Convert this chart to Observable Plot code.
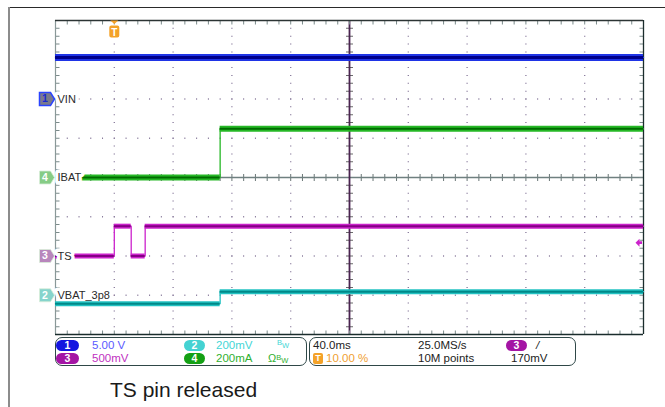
<!DOCTYPE html>
<html><head><meta charset="utf-8">
<script src="https://cdn.jsdelivr.net/npm/d3@7"></script>
<script src="https://cdn.jsdelivr.net/npm/@observablehq/plot@0.6"></script>
<style>
html,body{margin:0;padding:0;background:#fff;width:665px;height:407px;overflow:hidden;font-family:"Liberation Sans",Arial,sans-serif;}
#page{position:relative;width:665px;height:407px;}
#frameTop{position:absolute;left:9px;top:7px;width:656px;height:0;border-top:1px solid #2a2a2a;}
#frameLeft{position:absolute;left:8px;top:7px;width:0;height:400px;border-left:2px solid #8c8c8c;}
#chart{position:absolute;left:0;top:0;}
.box{position:absolute;top:337px;height:29px;border:1.3px solid #2f4848;border-radius:7px;box-sizing:border-box;}
.t{position:absolute;font-size:11.5px;line-height:12px;white-space:nowrap;color:#222;}
.pill{position:absolute;height:11px;border-radius:6px;color:#fff;font-size:10.5px;font-weight:bold;text-align:center;line-height:11px;}
.bw{position:absolute;font-size:7.5px;line-height:8px;white-space:nowrap;}
#caption{position:absolute;left:110px;top:379px;font-size:21px;line-height:21px;color:#1a1a1a;white-space:nowrap;}
</style></head><body>
<div id="page">
<div id="frameTop"></div><div id="frameLeft"></div>
<div id="chart"></div>
<div id="panel"></div>
<div id="caption"></div>
</div>
<script>
// ---- Channel setup ----
const channelNumbers = [1, 2, 3, 4];
const channelNames = ["VIN", "VBAT_3p8", "TS", "IBAT"];
const channelScaleLabels = ["5.00 V", "200mV", "500mV", "200mA"];
const channelPerDiv = [5, 0.2, 0.5, 0.2];      // V/div or A/div
const channelOffsetDiv = [2, -3, -2, 0];       // ground marker, divisions from centre
const channelBwLimited = [false, true, false, true];
const channelTermination = ["", "", "", "Ω"];

// ---- Waveforms: step edges (ms from trigger) and levels (V or A) ----
const vinTimes = [-40, 360];
const vinLevels = [5.3, 5.3];
const vbatTimes = [-40, 72, 360];
const vbatLevels = [-0.043, 0.018, 0.018];
const tsTimes = [-40, 0, 11.5, 21, 360];
const tsLevels = [0, 0.38, 0, 0.38, 0.38];
const ibatTimes = [-40, 72, 360];
const ibatLevels = [0, 0.248, 0.248];

// ---- Acquisition settings ----
const timePerDiv = 40;          // ms/div
const triggerPercent = 10;      // trigger position, % of record
const sampleRate = "25.0MS/s";
const recordLength = "10M points";
const triggerChannel = 3;
const triggerLevel = 0.17;      // V
const captionText = "TS pin released";

// ---- Styles ----
const traceColors = ["#1f34e6", "#22c2c2", "#cc22cc", "#26b826"];
const coreColors  = ["#00008a", "#008888", "#840084", "#006c00"];
const traceWidths = [7, 5, 5, 6];
const badgeFills  = ["#7a7a8c", "#86d4cc", "#b886bc", "#86cc86"];
const badgeText   = ["#1a2ad0", "#fff", "#fff", "#fff"];
const pillColors  = ["#1414e0", "#44d2d2", "#a414a4", "#14a014"];
const scaleColors = ["#5a5aff", "#44d6d6", "#c030c0", "#30b030"];

// ---- Derived ----
const nDivX = 10, nDivY = 8;
const tStart = -triggerPercent / 100 * nDivX * timePerDiv;
const tEnd = tStart + nDivX * timePerDiv;
const tCenter = (tStart + tEnd) / 2;
const toDiv = (ch, v) => channelOffsetDiv[ch] + v / channelPerDiv[ch];

const waves = [
  {ch: 0, times: vinTimes, levels: vinLevels},
  {ch: 1, times: vbatTimes, levels: vbatLevels},
  {ch: 2, times: tsTimes, levels: tsLevels},
  {ch: 3, times: ibatTimes, levels: ibatLevels}
];
const pointsOf = w => w.times.map((t, i) => ({t, y: toDiv(w.ch, w.levels[i])}));
const segsOf = w => w.times.slice(0, -1).map((t, i) => ({t1: t, t2: w.times[i + 1], y: toDiv(w.ch, w.levels[i])}));

const W = 665, H = 335, ML = 55, MR = 22, MT = 20, MB = 1;
const pxX = (W - ML - MR) / (nDivX * 5);   // minor tick spacing, px
const pxY = (H - MT - MB) / (nDivY * 5);
const dashX = `1 ${pxX - 1}`, dashY = `1 ${pxY - 1}`;

const xDivs = d3.range(0, nDivX + 1).map(i => tStart + i * timePerDiv);
const yDivs = d3.range(-nDivY / 2, nDivY / 2 + 1);
const gridX = xDivs.filter(t => t !== tStart && t !== tEnd && t !== tCenter);
const gridY = yDivs.filter(d => Math.abs(d) !== nDivY / 2 && d !== 0);

const gridColor = "#86789a";

function traceMarks(w) {
  const c = w.ch;
  return [
    Plot.line(pointsOf(w), {x: "t", y: "y", curve: "step-after", stroke: traceColors[c], strokeWidth: 1.3}),
    Plot.ruleY(segsOf(w), {x1: "t1", x2: "t2", y: "y", stroke: traceColors[c], strokeWidth: traceWidths[c]}),
    Plot.ruleY(segsOf(w), {x1: "t1", x2: "t2", y: "y", stroke: coreColors[c], strokeWidth: c === 0 ? 3 : 2})
  ];
}

const badgeSymbol = {draw(ctx) {
  ctx.moveTo(-16, -6.5); ctx.lineTo(-5, -6.5); ctx.lineTo(-1, 0); ctx.lineTo(-5, 6.5); ctx.lineTo(-16, 6.5); ctx.closePath();
}};
const trigSymbol = {draw(ctx) {
  ctx.moveTo(-4, -11); ctx.lineTo(4, -11); ctx.lineTo(0, -7.5); ctx.closePath();
  ctx.moveTo(-3, -6); ctx.lineTo(3, -6); ctx.quadraticCurveTo(5, -6, 5, -4); ctx.lineTo(5, 4);
  ctx.quadraticCurveTo(5, 6, 3, 6); ctx.lineTo(-3, 6); ctx.quadraticCurveTo(-5, 6, -5, 4);
  ctx.lineTo(-5, -4); ctx.quadraticCurveTo(-5, -6, -3, -6); ctx.closePath();
}};
const levelSymbol = {draw(ctx) {
  ctx.moveTo(-8, 0); ctx.lineTo(-4, -4); ctx.lineTo(-4, -1.3); ctx.lineTo(-1.5, -1.3);
  ctx.lineTo(-1.5, 1.3); ctx.lineTo(-4, 1.3); ctx.lineTo(-4, 4); ctx.closePath();
}};

const labelData = channelNames.map((name, i) => ({name, num: channelNumbers[i], ch: i, t: tStart, y: channelOffsetDiv[i]}));
const tickColor = "#7a8a8a";

const chart = Plot.plot({
  width: W, height: H,
  marginLeft: ML, marginRight: MR, marginTop: MT, marginBottom: MB,
  x: {domain: [tStart, tEnd], axis: null},
  y: {domain: [-nDivY / 2, nDivY / 2], axis: null},
  style: {fontFamily: "'Liberation Sans', Arial, sans-serif", background: "transparent", overflow: "visible"},
  marks: [
    // dotted graticule
    Plot.ruleX(gridX, {stroke: gridColor, strokeWidth: 1.3, strokeDasharray: dashY}),
    Plot.ruleY(gridY, {stroke: gridColor, strokeWidth: 1.3, strokeDasharray: dashX}),
    // centre axes with minor ticks
    Plot.ruleX([tCenter], {stroke: "#6a6a6a", strokeWidth: 7, strokeDasharray: dashY}),
    Plot.ruleY([0], {stroke: "#6a7676", strokeWidth: 7, strokeDasharray: dashX}),
    Plot.ruleY([0], {stroke: "#6f8080", strokeWidth: 1.3}),
    Plot.ruleX([tCenter], {stroke: "#4a2450", strokeWidth: 1.8}),
    // border ticks
    Plot.ruleY([nDivY / 2], {dy: 2, stroke: tickColor, strokeWidth: 4, strokeDasharray: dashX}),
    Plot.ruleY([-nDivY / 2], {dy: -2, stroke: tickColor, strokeWidth: 4, strokeDasharray: dashX}),
    Plot.ruleX([tStart], {dx: 2, stroke: tickColor, strokeWidth: 4, strokeDasharray: dashY}),
    Plot.ruleX([tEnd], {dx: -2, stroke: tickColor, strokeWidth: 4, strokeDasharray: dashY}),
    // frame
    Plot.ruleX([tStart], {stroke: "#8a9898", strokeWidth: 1.2}),
    Plot.ruleX([tEnd], {stroke: "#1a2c2c", strokeWidth: 1.3}),
    Plot.ruleY([nDivY / 2], {stroke: "#2c3434", strokeWidth: 1.3}),
    Plot.ruleY([-nDivY / 2], {stroke: "#1a2c2c", strokeWidth: 1.3}),
    // traces (VIN, IBAT, TS)
    ...traceMarks(waves[0]),
    ...traceMarks(waves[3]),
    ...traceMarks(waves[2]),
    // channel labels with white backing
    Plot.text(labelData, {x: "t", y: "y", text: "name", dx: 2, textAnchor: "start", fontSize: 11,
      fill: "#2a2a2a", stroke: "white", strokeWidth: 7}),
    // VBAT trace sits under its label
    ...traceMarks(waves[1]),
    // channel ground badges
    ...labelData.map(d => Plot.dot([d], {x: "t", y: "y", symbol: badgeSymbol, r: 7,
      fill: badgeFills[d.ch], stroke: d.ch === 0 ? "#2a44ff" : "#d8eed8", strokeWidth: d.ch === 0 ? 1.5 : 0.8})),
    ...labelData.map(d => Plot.text([d], {x: "t", y: "y", text: "num", dx: -10.5, fontSize: 10.5, fontWeight: "bold", fill: badgeText[d.ch]})),
    // trigger position marker
    Plot.dot([{t: 0, y: nDivY / 2}], {x: "t", y: "y", dy: 11, symbol: trigSymbol, r: 6, fill: "#f4a228", stroke: "none"}),
    Plot.text([{t: 0, y: nDivY / 2}], {x: "t", y: "y", dy: 12, text: () => "T", fontSize: 10, fontWeight: "bold", fill: "white"}),
    // trigger level marker
    Plot.dot([{t: tEnd, y: toDiv(triggerChannel - 1, triggerLevel)}], {x: "t", y: "y", symbol: levelSymbol, r: 5,
      fill: traceColors[triggerChannel - 1], stroke: "none"})
  ]
});
document.getElementById("chart").appendChild(chart);

// ---- status panel (legend below the plot) ----
const panel = document.getElementById("panel");
const html = [];
html.push(`<div class="box" style="left:55px;width:252px"></div>`);
html.push(`<div class="box" style="left:309px;width:267px"></div>`);
const colPill = [56, 184], colText = [92, 216];
const rowTop = [339.5, 352.5];
channelNumbers.forEach((n, i) => {
  const col = i % 2 === 0 ? 0 : 1;     // 1,3 left ; 2,4 right
  const row = i < 2 ? 0 : 1;
  const pw = col === 0 ? 23 : 21;
  html.push(`<div class="pill" style="left:${colPill[col]}px;top:${rowTop[row]}px;width:${pw}px;background:${pillColors[i]}">${n}</div>`);
  html.push(`<div class="t" style="left:${colText[col]}px;top:${rowTop[row] - 0.5}px;color:${scaleColors[i]}">${channelScaleLabels[i]}</div>`);
  if (channelBwLimited[i]) {
    const bwLeft = channelTermination[i] ? 268 : 277;
    html.push(`<div class="bw" style="left:${bwLeft}px;top:${rowTop[row] + 1}px;color:${scaleColors[i]}">` +
      (channelTermination[i] ? `<span style="font-size:11px">${channelTermination[i]}</span>` : "") +
      `<span style="position:relative;top:-2px">B</span><span style="position:relative;top:1px">W</span></div>`);
  }
});
html.push(`<div class="t" style="left:313px;top:339px">${timePerDiv.toFixed(1)}ms</div>`);
html.push(`<div class="pill" style="left:313px;top:352.5px;width:10px;height:11px;border-radius:2px;background:#f4a228;font-size:9px">T</div>`);
html.push(`<div class="t" style="left:326px;top:352px;color:#f0a030">${triggerPercent.toFixed(2)} %</div>`);
html.push(`<div class="t" style="left:418px;top:339px">${sampleRate}</div>`);
html.push(`<div class="t" style="left:418px;top:352px">${recordLength}</div>`);
html.push(`<div class="pill" style="left:506px;top:339.5px;width:21px;background:${pillColors[triggerChannel - 1]}">${triggerChannel}</div>`);
html.push(`<div class="t" style="left:536px;top:339px;font-style:italic">/</div>`);
html.push(`<div class="t" style="left:511px;top:352px">${Math.round(triggerLevel * 1000)}mV</div>`);
panel.innerHTML = html.join("");

document.getElementById("caption").textContent = captionText;
</script>
</body></html>
